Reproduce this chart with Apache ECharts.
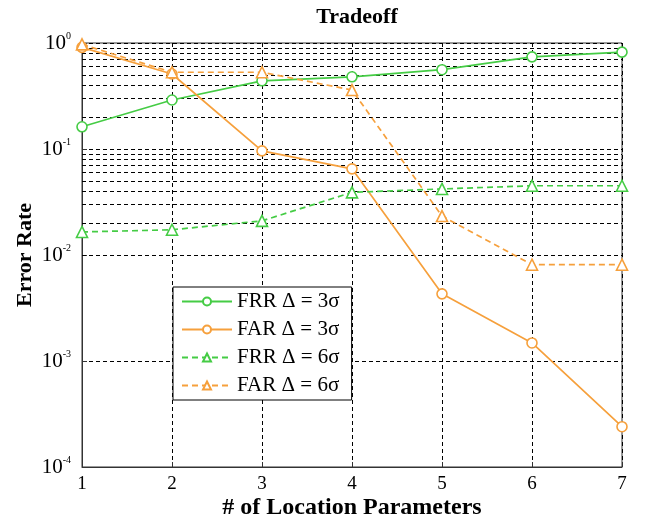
<!DOCTYPE html>
<html>
<head>
<meta charset="utf-8">
<script src="https://cdn.jsdelivr.net/npm/echarts@6/dist/echarts.min.js"></script>
<style>
  html, body { margin: 0; padding: 0; background: #fff; }
  #chart { width: 645px; height: 519px; }
</style>
</head>
<body>
<div id="chart"></div>
<script>
// x positions (# of location parameters)
const params = [1, 2, 3, 4, 5, 6, 7];

// error rates
const frr3 = [0.162, 0.29, 0.44, 0.48, 0.56, 0.74, 0.82];
const far3 = [0.91, 0.51, 0.096, 0.065, 0.0043, 0.00148, 0.00024];
const frr6 = [0.0165, 0.0173, 0.021, 0.039, 0.042, 0.045, 0.045];
const far6 = [0.97, 0.53, 0.53, 0.36, 0.0233, 0.0081, 0.0081];

const seriesNames = ["FRR \u0394 = 3\u03c3", "FAR \u0394 = 3\u03c3", "FRR \u0394 = 6\u03c3", "FAR \u0394 = 6\u03c3"];

const green = "#45cc45";
const orange = "#f6a03c";
const serif = "'Liberation Serif', 'DejaVu Serif', serif";

// minor log grid lines (2..9 of each decade)
let minorLines = [];
for (let d = -4; d < 0; d++) {
    for (let k = 2; k <= 9; k++) {
        minorLines.push({ yAxis: k * Math.pow(10, d) });
    }
}

const pair = (ys) => params.map((x, i) => [x, ys[i]]);

const makeSeries = (name, ys, color, symbol, dashed) => ({
    name: name,
    type: "line",
    data: pair(ys),
    symbol: symbol,
    symbolSize: symbol === "triangle" ? 11 : 10,
    showSymbol: true,
    itemStyle: { color: "#fff", borderColor: color, borderWidth: 1.6 },
    lineStyle: { color: color, width: 1.7, type: dashed ? [6, 4] : "solid" },
    z: 5
});

const chart = echarts.init(document.getElementById("chart"));

const option = {
    backgroundColor: "#fff",
    animation: false,
    title: {
        text: "Tradeoff",
        left: 352,
        top: 1,
        textAlign: "center",
        textStyle: { fontFamily: serif, fontWeight: "bold", fontSize: 22, color: "#000" }
    },
    grid: {
        left: 82, right: 23, top: 43, bottom: 52,
        outerBoundsMode: "none",
        containLabel: false,
        show: true,
        borderColor: "#333",
        borderWidth: 1
    },
    legend: {
        left: 173,
        top: 287,
        orient: "vertical",
        itemWidth: 50,
        itemHeight: 10,
        itemGap: 7,
        padding: [4, 12, 4, 8],
        backgroundColor: "#fff",
        borderColor: "#000",
        borderWidth: 1,
        borderRadius: 0,
        textStyle: { fontFamily: serif, fontSize: 21, color: "#000" },
        data: seriesNames
    },
    xAxis: {
        type: "value",
        min: 1,
        max: 7,
        interval: 1,
        name: "# of Location Parameters",
        nameLocation: "middle",
        nameGap: 29,
        nameMoveOverlap: false,
        nameTextStyle: { fontFamily: serif, fontWeight: "bold", fontSize: 24, color: "#000" },
        axisLine: { onZero: false, lineStyle: { color: "#333", width: 1 } },
        axisTick: { inside: true, length: 5, lineStyle: { color: "#333" } },
        axisLabel: { fontFamily: serif, fontSize: 19, color: "#000", margin: 8 },
        splitLine: { show: true, lineStyle: { color: "#000", type: [4, 3], width: 1 } }
    },
    yAxis: {
        type: "log",
        logBase: 10,
        min: 1e-4,
        max: 1,
        name: "Error Rate",
        nameLocation: "middle",
        nameGap: 46,
        nameMoveOverlap: false,
        nameTextStyle: { fontFamily: serif, fontWeight: "bold", fontSize: 22, color: "#000" },
        axisLine: { show: true, lineStyle: { color: "#333", width: 1 } },
        axisTick: { inside: true, length: 5, lineStyle: { color: "#333" } },
        axisLabel: {
            margin: 11,
            formatter: function(v) {
                let e = Math.round(Math.log10(v));
                return "{b|10}{s|" + e + "}";
            },
            rich: {
                b: { fontFamily: serif, fontSize: 21, color: "#000" },
                s: { fontFamily: serif, fontSize: 10, color: "#000", verticalAlign: "top", padding: [0, 0, 13, 0] }
            }
        },
        splitLine: { show: true, lineStyle: { color: "#000", type: [4, 3], width: 1 } }
    },
    series: [
        Object.assign(makeSeries(seriesNames[0], frr3, green, "circle", false), {
            markLine: {
                silent: true,
                symbol: "none",
                label: { show: false },
                lineStyle: { color: "#000", type: [4, 3], width: 1 },
                data: minorLines,
                z: 1
            }
        }),
        makeSeries(seriesNames[1], far3, orange, "circle", false),
        makeSeries(seriesNames[2], frr6, green, "triangle", true),
        makeSeries(seriesNames[3], far6, orange, "triangle", true)
    ]
};

chart.setOption(option);
</script>
</body>
</html>
